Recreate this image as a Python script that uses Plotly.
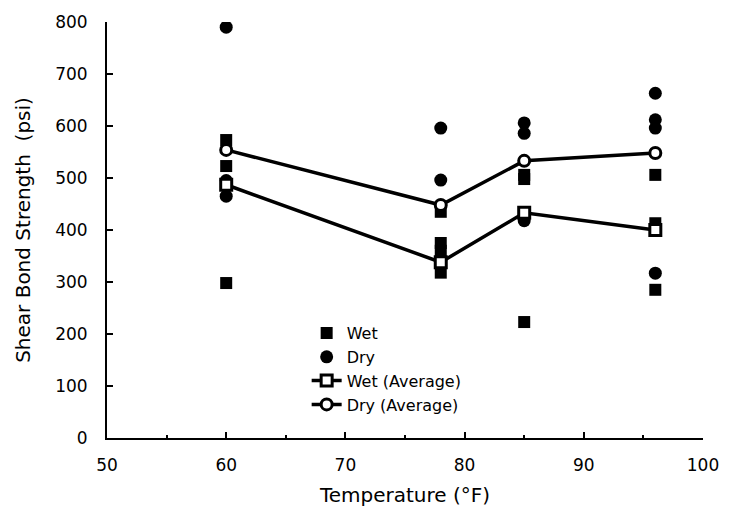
import plotly.graph_objects as go

# Individual measurements
wet_x = [60, 60, 60, 78, 78, 78, 78, 85, 85, 85, 96, 96, 96]
wet_y = [573, 523, 298, 435, 375, 360, 318, 506, 498, 223, 506, 413, 285]
dry_x = [60, 60, 60, 78, 78, 85, 85, 85, 96, 96, 96, 96]
dry_y = [790, 495, 465, 596, 496, 606, 586, 418, 663, 612, 596, 317]

# Averages
avg_x = [60, 78, 85, 96]
wet_avg = [487, 338, 433, 400]
dry_avg = [554, 448, 533, 548]

FONT = "DejaVu Sans"

fig = go.Figure()
fig.add_trace(go.Scatter(x=wet_x, y=wet_y, mode="markers", name="Wet",
                         marker=dict(symbol="square", size=12, color="black")))
fig.add_trace(go.Scatter(x=dry_x, y=dry_y, mode="markers", name="Dry",
                         marker=dict(symbol="circle", size=13, color="black")))
fig.add_trace(go.Scatter(x=avg_x, y=wet_avg, mode="lines+markers", name="Wet (Average)",
                         line=dict(color="black", width=3.5),
                         marker=dict(symbol="square", size=11, color="white",
                                     line=dict(color="black", width=3))))
fig.add_trace(go.Scatter(x=avg_x, y=dry_avg, mode="lines+markers", name="Dry (Average)",
                         line=dict(color="black", width=3.5),
                         marker=dict(symbol="circle", size=11, color="white",
                                     line=dict(color="black", width=3))))

fig.update_layout(
    width=743, height=513,
    margin=dict(l=107, r=40, t=22, b=75),
    paper_bgcolor="white", plot_bgcolor="white",
    font=dict(family=FONT, color="black", size=17),
    showlegend=True,
    legend=dict(x=0.335, y=0.293, xanchor="left", yanchor="top",
                bgcolor="rgba(0,0,0,0)", font=dict(size=16, family=FONT),
                tracegroupgap=0, itemwidth=30),
    xaxis=dict(range=[50, 100], tickmode="array", tickvals=[50, 60, 70, 80, 90, 100],
               showgrid=False, zeroline=False, showline=True, linecolor="black", linewidth=2,
               ticks="inside", ticklen=6, tickwidth=2, tickcolor="black",
               minor=dict(ticks="inside", dtick=5, tick0=50, ticklen=3, tickwidth=2, tickcolor="black", showgrid=False),
               ticklabelstandoff=11, automargin=False,
               title=dict(text="Temperature (°F)", font=dict(size=20, family=FONT), standoff=14)),
    yaxis=dict(range=[0, 800], tickmode="array", tickvals=list(range(0, 801, 100)),
               showgrid=False, zeroline=False, showline=True, linecolor="black", linewidth=2,
               ticks="inside", ticklen=6, tickwidth=2, tickcolor="black",
               ticklabelstandoff=14, automargin=False,
               title=dict(text="Shear Bond Strength  (psi)", font=dict(size=20, family=FONT), standoff=19)),
)

fig.write_html("out.html")
